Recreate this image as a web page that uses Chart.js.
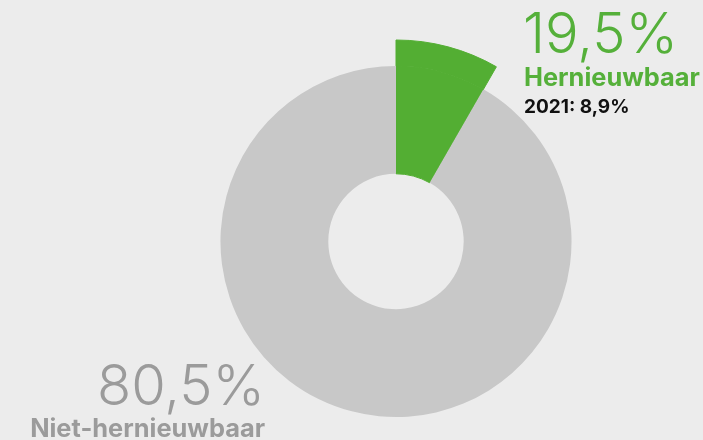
<!DOCTYPE html>
<html>
<head>
<meta charset="utf-8">
<script src="https://cdn.jsdelivr.net/npm/chart.js@4.4.1/dist/chart.umd.min.js"></script>
<style>
  html, body { margin: 0; padding: 0; background: #ececec; }
  #wrap { position: relative; width: 703px; height: 440px; overflow: hidden; }
  .lbl { position: absolute; font-family: Inter, "Noto Sans", sans-serif; line-height: 1; white-space: nowrap; }
  .big { font-size: 56px; font-weight: 300; }
  .name { font-size: 25.4px; font-weight: 700; }
  .sub { font-size: 19px; font-weight: 700; color: #111; }
</style>
</head>
<body>
<div id="wrap">
  <canvas id="mycanvas" width="703" height="440"></canvas>
  <div class="lbl big" id="pctA" style="left:523px; top:5px; color:#55b03a;"></div>
  <div class="lbl name" id="nameA" style="left:524px; top:64px; color:#55b03a;"></div>
  <div class="lbl sub" id="subA" style="left:524px; top:97px;"></div>
  <div class="lbl big" id="pctB" style="right:438px; top:357px; color:#9b9b9b;"></div>
  <div class="lbl name" id="nameB" style="right:438px; top:415px; color:#9b9b9b;"></div>
</div>
<script>
// categories and values (slice share as drawn in the picture)
var categories = ['Hernieuwbaar', 'Niet-hernieuwbaar'];
var shares = [8.3, 91.7];
var pctLabels = ['19,5%', '80,5%'];
var prevYearLabel = '2021: 8,9%';

var green = '#53ae33';
var grey = '#c8c8c8';

document.getElementById('pctA').textContent = pctLabels[0];
document.getElementById('nameA').textContent = categories[0];
document.getElementById('subA').textContent = prevYearLabel;
document.getElementById('pctB').textContent = pctLabels[1];
document.getElementById('nameB').textContent = categories[1];

var ctx = document.getElementById('mycanvas');
var donut = new Chart(ctx, {
  type: 'doughnut',
  data: {
    labels: categories,
    datasets: [
      {
        // outer ring: only the renewable slice sticks out
        data: shares,
        backgroundColor: [green, 'rgba(0,0,0,0)'],
        borderColor: [green, 'rgba(0,0,0,0)'],
        borderWidth: [1, 0],
        weight: 26,
        clip: false
      },
      {
        data: shares,
        backgroundColor: [green, grey],
        borderColor: [green, grey],
        borderWidth: [1, 0],
        weight: 108,
        clip: false
      }
    ]
  },
  options: {
    responsive: false,
    animation: false,
    radius: 201.5,
    cutout: '33.6%',
    hoverOffset: 0,
    layout: { padding: { top: 43, bottom: 0, left: 89, right: 0 } },
    plugins: {
      legend: { display: false },
      tooltip: { enabled: false }
    }
  }
});
</script>
</body>
</html>
